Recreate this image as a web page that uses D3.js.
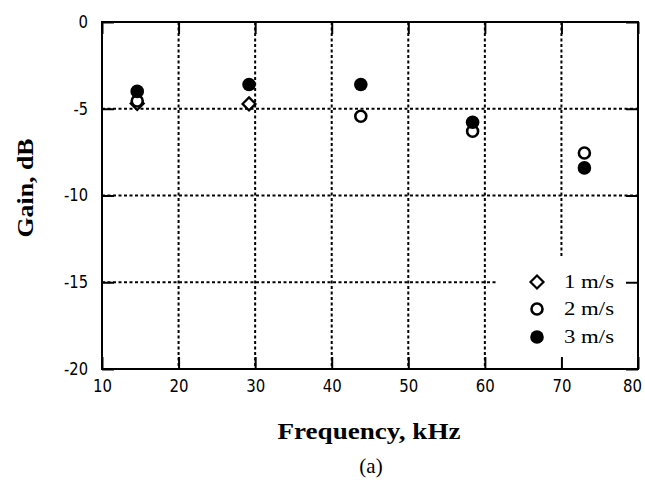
<!DOCTYPE html>
<html>
<head>
<meta charset="utf-8">
<script src="https://cdn.jsdelivr.net/npm/d3@7"></script>
<style>
  body { margin: 0; background: #fff; }
  svg { display: block; }
</style>
</head>
<body>
<div id="chart"></div>
<script>
// data
const freq1 = [14.6, 29.2];
const gain1 = [-4.7, -4.72];
const freq2 = [14.6, 43.8, 58.4, 73.0];
const gain2 = [-4.55, -5.43, -6.3, -7.55];
const freq3 = [14.6, 29.2, 43.8, 58.4, 73.0];
const gain3 = [-4.0, -3.6, -3.6, -5.78, -8.41];

const xTicks = [10, 20, 30, 40, 50, 60, 70, 80];
const yTicks = [0, -5, -10, -15, -20];
const legendLabels = ['1 m/s', '2 m/s', '3 m/s'];

const W = 645, H = 482;
const m = { left: 102, right: 7, top: 22, bottom: 113 };

const svg = d3.select('#chart').append('svg')
  .attr('width', W)
  .attr('height', H);

const x = d3.scaleLinear().domain([10, 80]).range([m.left, W - m.right]);
const y = d3.scaleLinear().domain([-20, 0]).range([H - m.bottom, m.top]);

// legend box area (grid is hidden behind it)
const legBox = { x0: 498, x1: 627, y0: 257, y1: 355 };

const grid = svg.append('g')
  .attr('stroke', '#000')
  .attr('stroke-width', 2)
  .attr('stroke-dasharray', '3,2.5');

// vertical grid
xTicks.slice(1, -1).forEach(t => {
  const px = x(t);
  let yEnd = y(-20);
  if (px > legBox.x0 && px < legBox.x1) yEnd = legBox.y0;
  grid.append('line')
    .attr('x1', px).attr('x2', px)
    .attr('y1', y(0)).attr('y2', yEnd);
});
// horizontal grid
yTicks.slice(1, -1).forEach(t => {
  const py = y(t);
  let xEnd = x(80);
  if (py > legBox.y0 && py < legBox.y1) xEnd = legBox.x0;
  grid.append('line')
    .attr('x1', x(10)).attr('x2', xEnd)
    .attr('y1', py).attr('y2', py);
});

// axes with inward ticks
const tickLen = 12;
const fontTick = '"DejaVu Sans", sans-serif';
const fmt = d => String(d);
// narrow digits like the original
const labelLen = s => s.replace('-', '').length * 9.5 + (s.includes('-') ? 5 : 0);

const xAxis = svg.append('g')
  .attr('transform', `translate(0,${y(-20)})`)
  .call(d3.axisBottom(x).tickValues(xTicks).tickSize(-tickLen).tickPadding(23).tickFormat(fmt));
const xAxisTop = svg.append('g')
  .attr('transform', `translate(0,${y(0)})`)
  .call(d3.axisTop(x).tickValues(xTicks).tickSize(-tickLen).tickFormat(''));
const yAxis = svg.append('g')
  .attr('transform', `translate(${x(10)},0)`)
  .call(d3.axisLeft(y).tickValues(yTicks).tickSize(-tickLen).tickPadding(14).tickFormat(fmt));
const yAxisRight = svg.append('g')
  .attr('transform', `translate(${x(80)},0)`)
  .call(d3.axisRight(y).tickValues(yTicks).tickSize(-tickLen).tickFormat(''));

[xAxis, xAxisTop, yAxis, yAxisRight].forEach(g => {
  g.select('.domain').remove();
  g.selectAll('line').attr('stroke', '#000').attr('stroke-width', 2);
  g.selectAll('text')
    .attr('fill', '#000')
    .style('font-family', fontTick)
    .style('font-size', '17px')
    .attr('textLength', function () { return labelLen(this.textContent); })
    .attr('lengthAdjust', 'spacingAndGlyphs');
});
xAxis.selectAll('text').attr('dy', '0');
// last label sits against the page edge
xAxis.selectAll('text').filter(d => d === 80).attr('x', -6);

// frame
svg.append('rect')
  .attr('x', x(10)).attr('y', y(0))
  .attr('width', x(80) - x(10)).attr('height', y(-20) - y(0))
  .attr('fill', 'none')
  .attr('stroke', '#000')
  .attr('stroke-width', 2);

// markers
const r = 6;
const diamond = (cx, cy, s) =>
  `M${cx},${cy - s}L${cx + s},${cy}L${cx},${cy + s}L${cx - s},${cy}Z`;

const pts1 = freq1.map((f, i) => [f, gain1[i]]);
const pts2 = freq2.map((f, i) => [f, gain2[i]]);
const pts3 = freq3.map((f, i) => [f, gain3[i]]);

svg.append('g').selectAll('path')
  .data(pts1).join('path')
  .attr('d', d => diamond(x(d[0]), y(d[1]), 6.5))
  .attr('fill', '#fff').attr('stroke', '#000').attr('stroke-width', 2.2);

svg.append('g').selectAll('circle')
  .data(pts2).join('circle')
  .attr('cx', d => x(d[0])).attr('cy', d => y(d[1])).attr('r', r - 0.5)
  .attr('fill', '#fff').attr('stroke', '#000').attr('stroke-width', 2.6);

svg.append('g').selectAll('circle')
  .data(pts3).join('circle')
  .attr('cx', d => x(d[0])).attr('cy', d => y(d[1])).attr('r', r + 0.8)
  .attr('fill', '#000');

// legend
const legX = 537, legY = [282, 309, 337];
const leg = svg.append('g');
leg.append('path')
  .attr('d', diamond(legX, legY[0], 6.5))
  .attr('fill', '#fff').attr('stroke', '#000').attr('stroke-width', 2.2);
leg.append('circle')
  .attr('cx', legX).attr('cy', legY[1]).attr('r', r - 0.5)
  .attr('fill', '#fff').attr('stroke', '#000').attr('stroke-width', 2.6);
leg.append('circle')
  .attr('cx', legX).attr('cy', legY[2]).attr('r', r + 0.8)
  .attr('fill', '#000');
leg.selectAll('text')
  .data(legendLabels).join('text')
  .attr('x', 564)
  .attr('y', (d, i) => legY[i] + 6)
  .style('font-family', '"Liberation Serif", serif')
  .style('font-size', '19px')
  .attr('textLength', 50)
  .attr('lengthAdjust', 'spacingAndGlyphs')
  .text(d => d);

// titles
svg.append('text')
  .attr('x', 369).attr('y', 439)
  .attr('text-anchor', 'middle')
  .style('font-family', '"Liberation Serif", serif')
  .style('font-weight', 'bold')
  .style('font-size', '24px')
  .attr('textLength', 183)
  .attr('lengthAdjust', 'spacingAndGlyphs')
  .text('Frequency, kHz');

svg.append('text')
  .attr('transform', 'translate(33,188) rotate(-90)')
  .attr('text-anchor', 'middle')
  .style('font-family', '"Liberation Serif", serif')
  .style('font-weight', 'bold')
  .style('font-size', '24px')
  .attr('textLength', 99)
  .attr('lengthAdjust', 'spacingAndGlyphs')
  .text('Gain, dB');

svg.append('text')
  .attr('x', 371).attr('y', 473)
  .attr('text-anchor', 'middle')
  .style('font-family', '"Liberation Serif", serif')
  .style('font-size', '21px')
  .text('(a)');
</script>
</body>
</html>
